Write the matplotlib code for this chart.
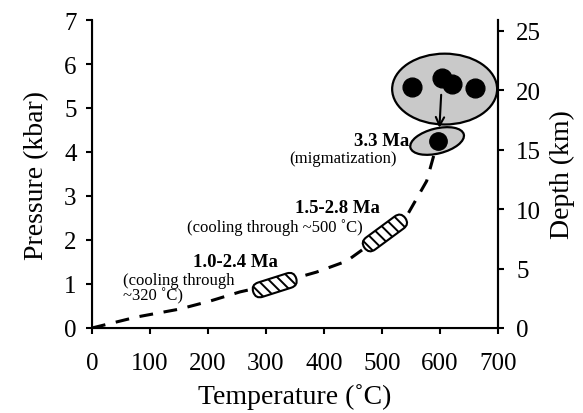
import numpy as np
import matplotlib
matplotlib.use("Agg")
import matplotlib.pyplot as plt
from matplotlib.patches import Ellipse, FancyBboxPatch
from matplotlib.transforms import Affine2D, ScaledTranslation

plt.rcParams['font.family'] = ['Liberation Serif', 'DejaVu Serif']
plt.rcParams['hatch.linewidth'] = 1.4

# ---- data ----
path_T = [0, 77, 151, 203, 255, 315, 387, 439, 500, 545, 577, 592]
path_P = [0, 0.25, 0.43, 0.61, 0.82, 1.0, 1.27, 1.52, 2.1, 2.6, 3.34, 4.05]

cap1_T = [278, 352]
cap1_P = [0.82, 1.13]
cap2_T = [470, 540]
cap2_P = [1.82, 2.5]

big_ell_center = (608, 5.43)
big_ell_size = (181, 1.61)
small_ell_center = (595, 4.25)

dots_T = [552, 604, 620, 661]
dots_P = [5.48, 5.68, 5.55, 5.45]
dot_small = (597, 4.25)

arrow_from = (602, 5.3)
arrow_to = (599, 4.55)

xticks = [0, 100, 200, 300, 400, 500, 600, 700]
yticks = [0, 1, 2, 3, 4, 5, 6, 7]
depth_ticks = [0, 5, 10, 15, 20, 25]
km_per_kbar = 3.7

W, H, DPI = 583, 414, 100
fig = plt.figure(figsize=(W / DPI, H / DPI), dpi=DPI)
ax = fig.add_axes([92 / W, 1 - 329 / H, (498 - 92) / W, (329 - 21) / H])
ax.set_xlim(0, 700)
ax.set_ylim(0, 7)

for s in ['left', 'bottom', 'right']:
    ax.spines[s].set_linewidth(1.5)
ax.spines['top'].set_visible(False)

ax.set_xticks(xticks)
ax.set_yticks(yticks)
ax.tick_params(direction='out', length=4, width=1.5, labelsize=18, pad=7)
ax.tick_params(axis='x', pad=13)
ax.set_xlabel('Temperature (˚C)', fontsize=20, labelpad=7)
ax.set_ylabel('Pressure (kbar)', fontsize=20, labelpad=11)

ax2 = ax.twinx()
ax2.set_ylim(0, 7 * km_per_kbar)
ax2.set_yticks(depth_ticks)
ax2.spines['top'].set_visible(False)
ax2.spines['right'].set_linewidth(1.5)
ax2.tick_params(direction='out', length=4, width=1.5, labelsize=18, pad=9)
ax2.set_ylabel('Depth (km)', fontsize=20, labelpad=6)

# dashed P-T path
ax.plot(path_T, path_P, color='black', lw=2.2, dashes=(4.5, 3.5), zorder=2,
        solid_capstyle='butt', dash_capstyle='butt')


def disp_trans(center):
    return fig.dpi_scale_trans + ScaledTranslation(center[0], center[1], ax.transData)


def capsule(T, P, h_px):
    p1 = ax.transData.transform((T[0], P[0]))
    p2 = ax.transData.transform((T[1], P[1]))
    L = np.hypot(*(p2 - p1)) / DPI
    ang = np.degrees(np.arctan2(p2[1] - p1[1], p2[0] - p1[0]))
    h = h_px / DPI
    c = ((T[0] + T[1]) / 2, (P[0] + P[1]) / 2)
    tr = Affine2D().rotate_deg(ang) + disp_trans(c)
    patch = FancyBboxPatch((-L / 2, -h / 2), L, h,
                           boxstyle=f"round,pad=0,rounding_size={h / 2}",
                           transform=tr, facecolor='white', edgecolor='black',
                           lw=1.5, hatch='\\\\\\', zorder=3)
    ax.add_patch(patch)


capsule(cap1_T, cap1_P, 15)
capsule(cap2_T, cap2_P, 15)

# large gray ellipse
ax.add_patch(Ellipse(big_ell_center, big_ell_size[0], big_ell_size[1],
                     facecolor='#c9c9c9', edgecolor='black', lw=1.6, zorder=3))
# small tilted gray ellipse (size in inches)
ax.add_patch(Ellipse((0, 0), 0.55, 0.25, angle=14,
                     transform=disp_trans(small_ell_center),
                     facecolor='#c9c9c9', edgecolor='black', lw=1.6, zorder=3))

ax.plot(dots_T, dots_P, 'o', color='black', ms=13.5, zorder=4)
ax.plot([dot_small[0]], [dot_small[1]], 'o', color='black', ms=12.5, zorder=4)

ax.annotate('', xy=arrow_to, xytext=arrow_from,
            arrowprops=dict(arrowstyle='->,head_length=0.6,head_width=0.3',
                            color='black', lw=1.5, shrinkA=0, shrinkB=0),
            zorder=5)

# annotations
ax.text(248, 1.5, '1.0-2.4 Ma', fontsize=13.5, fontweight='bold',
        ha='center', va='center')
ax.text(53, 0.92, '(cooling through\n~320 ˚C)', fontsize=12, ha='left',
        va='center', linespacing=0.95)
ax.text(423, 2.73, '1.5-2.8 Ma', fontsize=13.5, fontweight='bold',
        ha='center', va='center')
ax.text(466, 2.3, '(cooling through ~500 ˚C)', fontsize=12, ha='right',
        va='center')
ax.text(547, 4.25, '3.3 Ma', fontsize=13.5, fontweight='bold',
        ha='right', va='center')
ax.text(525, 3.86, '(migmatization)', fontsize=12, ha='right', va='center')

fig.savefig('out.png', dpi=DPI)
